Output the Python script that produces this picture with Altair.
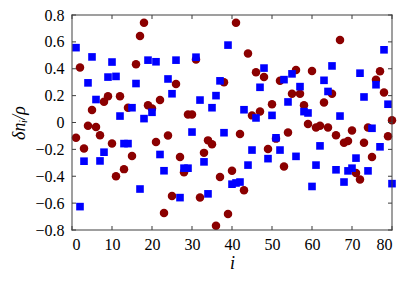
import altair as alt
import pandas as pd

# site index i (1..80)
site_index = list(range(1, 81))

# series 1: dark red circles
red_vals = [-0.114, 0.41, -0.193, -0.024, 0.093, -0.033, -0.095, 0.155, 0.195, -0.157,
            -0.40, 0.195, -0.347, 0.11, -0.25, 0.433, 0.643, 0.743, 0.129, 0.105,
            -0.145, 0.167, -0.674, -0.097, -0.547, 0.286, -0.257, -0.371, 0.06, 0.06,
            0.469, -0.559, -0.226, -0.133, -0.161, -0.769, -0.405, 0.30, -0.681, -0.359,
            0.743, -0.086, -0.505, 0.514, 0.053, 0.374, 0.081, 0.338, -0.197, 0.136,
            -0.12, 0.31, -0.328, -0.075, 0.214, 0.391, 0.214, 0.129, -0.012, 0.383,
            -0.038, -0.024, 0.148, -0.038, 0.214, -0.095, 0.614, -0.15, -0.138, -0.059,
            -0.376, -0.424, -0.15, -0.038, -0.257, 0.319, 0.381, 0.224, -0.102, 0.017]

# series 2: blue squares
blue_vals = [0.557, -0.626, -0.288, 0.295, 0.488, 0.171, -0.286, -0.221, 0.338, 0.45,
             0.343, 0.048, -0.157, -0.157, 0.11, 0.29, -0.495, 0.029, 0.464, 0.076,
             0.452, -0.238, -0.359, 0.324, 0.214, 0.464, -0.559, -0.34, -0.34, -0.071,
             0.486, 0.167, -0.293, -0.531, 0.11, 0.2, 0.31, -0.076, 0.576, -0.459,
             -0.45, -0.443, 0.095, -0.317, -0.205, 0.034, 0.262, 0.405, -0.269, 0.053,
             -0.114, -0.205, 0.319, 0.153, 0.362, -0.252, 0.267, 0.081, 0.071, -0.476,
             -0.317, -0.174, 0.314, 0.231, 0.421, -0.352, 0.048, -0.443, -0.36, -0.34,
             -0.265, 0.367, 0.19, -0.36, -0.043, 0.281, -0.181, 0.541, 0.136, -0.455]

x_ticks = [0, 10, 20, 30, 40, 50, 60, 70, 80]
y_ticks = [-0.8, -0.6, -0.4, -0.2, 0, 0.2, 0.4, 0.6, 0.8]

W, H = 320, 215
FONT = "Liberation Serif"
FRAME = "#404040"
TXT = "black"
TL = 4  # inward tick length (px)

red_df = pd.DataFrame({"i": site_index, "v": red_vals})
blue_df = pd.DataFrame({"i": site_index, "v": blue_vals})
xt_df = pd.DataFrame({"i": x_ticks})
yt_df = pd.DataFrame({"v": y_ticks})
one_df = pd.DataFrame({"k": [0]})

xs = alt.Scale(domain=[0, 80], nice=False, zero=False)
ys = alt.Scale(domain=[-0.8, 0.8], nice=False, zero=False)

x_axis = alt.Axis(values=x_ticks, title="i", titleFontStyle="italic", titleFontWeight="normal",
                  titleFont=FONT, titleFontSize=18, titleColor=TXT, titlePadding=2,
                  labelFont=FONT, labelFontSize=16, labelColor=TXT, labelPadding=6,
                  domain=False, ticks=False, grid=False)
y_axis = alt.Axis(values=y_ticks, title="δnᵢ/ρ", titleFontStyle="italic", titleFontWeight="normal",
                  titleFont=FONT, titleFontSize=18, titleColor=TXT, titlePadding=6,
                  labelFont=FONT, labelFontSize=16, labelColor=TXT, labelPadding=8,
                  labelExpr="datum.value == 0 ? '0' : format(datum.value, '.1f')",
                  domain=False, ticks=False, grid=False)

red = alt.Chart(red_df).mark_circle(color="#8B0000", size=72, opacity=1).encode(
    x=alt.X("i:Q", scale=xs, axis=x_axis),
    y=alt.Y("v:Q", scale=ys, axis=y_axis),
)
blue = alt.Chart(blue_df).mark_square(color="#0000FF", size=58, opacity=1).encode(
    x=alt.X("i:Q", scale=xs, axis=x_axis),
    y=alt.Y("v:Q", scale=ys, axis=y_axis),
)

# inward ticks drawn as thin filled rectangles
xtick_base = alt.Chart(xt_df).transform_calculate(
    lo="datum.i - 0.13", hi="datum.i + 0.13").mark_rect(color=FRAME, opacity=1)
bottom_ticks = xtick_base.encode(
    x=alt.X("lo:Q", scale=xs, axis=x_axis), x2="hi:Q",
    y=alt.value(H), y2=alt.value(H - TL))
top_ticks = xtick_base.encode(
    x=alt.X("lo:Q", scale=xs, axis=x_axis), x2="hi:Q",
    y=alt.value(0), y2=alt.value(TL))
ytick_base = alt.Chart(yt_df).transform_calculate(
    lo="datum.v - 0.0038", hi="datum.v + 0.0038").mark_rect(color=FRAME, opacity=1)
left_ticks = ytick_base.encode(
    y=alt.Y("lo:Q", scale=ys, axis=y_axis), y2="hi:Q",
    x=alt.value(0), x2=alt.value(TL))
right_ticks = ytick_base.encode(
    y=alt.Y("lo:Q", scale=ys, axis=y_axis), y2="hi:Q",
    x=alt.value(W), x2=alt.value(W - TL))

# plot frame as four thin filled bars
fbase = alt.Chart(one_df).mark_rect(color=FRAME, opacity=1)
f_top = fbase.encode(x=alt.value(-0.5), x2=alt.value(W + 0.5), y=alt.value(-0.5), y2=alt.value(0.5))
f_bot = fbase.encode(x=alt.value(-0.5), x2=alt.value(W + 0.5), y=alt.value(H - 0.5), y2=alt.value(H + 0.5))
f_left = fbase.encode(x=alt.value(-0.5), x2=alt.value(0.5), y=alt.value(-0.5), y2=alt.value(H + 0.5))
f_right = fbase.encode(x=alt.value(W - 0.5), x2=alt.value(W + 0.5), y=alt.value(-0.5), y2=alt.value(H + 0.5))

chart = alt.layer(red, blue, bottom_ticks, top_ticks, left_ticks, right_ticks,
                  f_top, f_bot, f_left, f_right).properties(
    width=W, height=H,
    background="white",
    autosize=alt.AutoSizeParams(type="none"),
    padding={"left": 64, "top": 7, "right": 9, "bottom": 45},
).configure_view(stroke=None)

chart.save("out.html", embed_options={"renderer": "svg", "actions": False})
